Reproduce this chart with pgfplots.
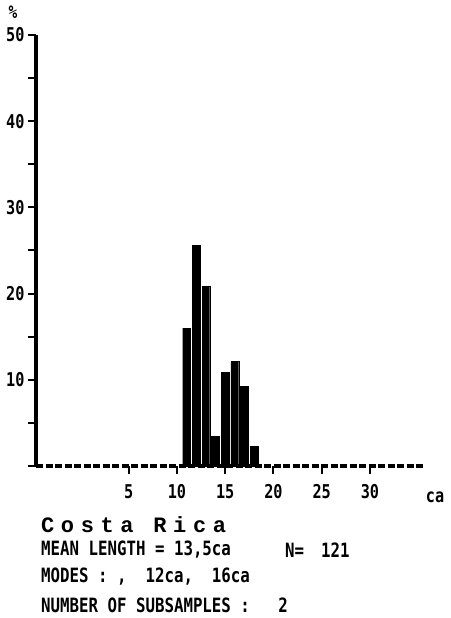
\documentclass[border=0pt]{standalone}
\usepackage{pgfplots}
\pgfplotsset{compat=1.18}
\usepackage{fontspec}
\newfontfamily\lblfont[FakeStretch=0.8]{DejaVu Sans Mono}
\newfontfamily\titlefont[LetterSpace=30]{Liberation Mono}
\begin{document}
\begin{tikzpicture}[x=1pt,y=1pt]
\useasboundingbox (0,0) rectangle (450,618);
\begin{axis}[
  at={(36pt,152pt)}, anchor=south west,
  scale only axis, width=389pt, height=431pt,
  xmin=-4.6, xmax=35.7, ymin=0, ymax=50,
  axis x line*=bottom, axis y line*=left,
  x axis line style={-, line width=4.5pt, dash pattern=on 7pt off 2.5pt},
  y axis line style={-, line width=3.5pt},
  tick align=outside, major tick length=8pt,
  xtick={5,10,...,30}, xticklabels={5,10,15,20,25,30},
  ytick={0,5,...,50}, yticklabels={,,10,,20,,30,,40,,50},
  tick style={line width=2pt, black},
  xticklabel style={font=\lblfont\bfseries\fontsize{19}{19}\selectfont, yshift=-7pt},
  yticklabel style={font=\lblfont\bfseries\fontsize{19}{19}\selectfont},
  clip=false,
]
\addplot[ybar, fill=black, draw=black, bar width=0.8] coordinates {
  (11,16.0) (12,25.6) (13,20.8) (14,3.4) (15,10.9) (16,12.1) (17,9.2) (18,2.3)};
\end{axis}
\node[font=\lblfont\bfseries\fontsize{18}{18}\selectfont] at (13,606) {\%};
\node[font=\lblfont\bfseries\fontsize{19}{19}\selectfont] at (435,121) {ca};
\node[anchor=west, inner sep=0pt, font=\titlefont\bfseries\fontsize{22}{22}\selectfont] at (41,93) {Costa Rica};
\node[anchor=west, inner sep=0pt, font=\lblfont\bfseries\fontsize{19.7}{20}\selectfont] at (41,68) {MEAN LENGTH = 13,5ca};
\node[anchor=west, inner sep=0pt, font=\lblfont\bfseries\fontsize{19.7}{20}\selectfont] at (285,68) {N=};
\node[anchor=west, inner sep=0pt, font=\lblfont\bfseries\fontsize{19.7}{20}\selectfont] at (321,68) {121};
\node[anchor=west, inner sep=0pt, font=\lblfont\bfseries\fontsize{19.7}{20}\selectfont] at (41,41) {MODES : ,\ \ 12ca,\ \ 16ca};
\node[anchor=west, inner sep=0pt, font=\lblfont\bfseries\fontsize{19.7}{20}\selectfont] at (41,13) {NUMBER OF SUBSAMPLES :\ \ \ 2};
\end{tikzpicture}
\end{document}
